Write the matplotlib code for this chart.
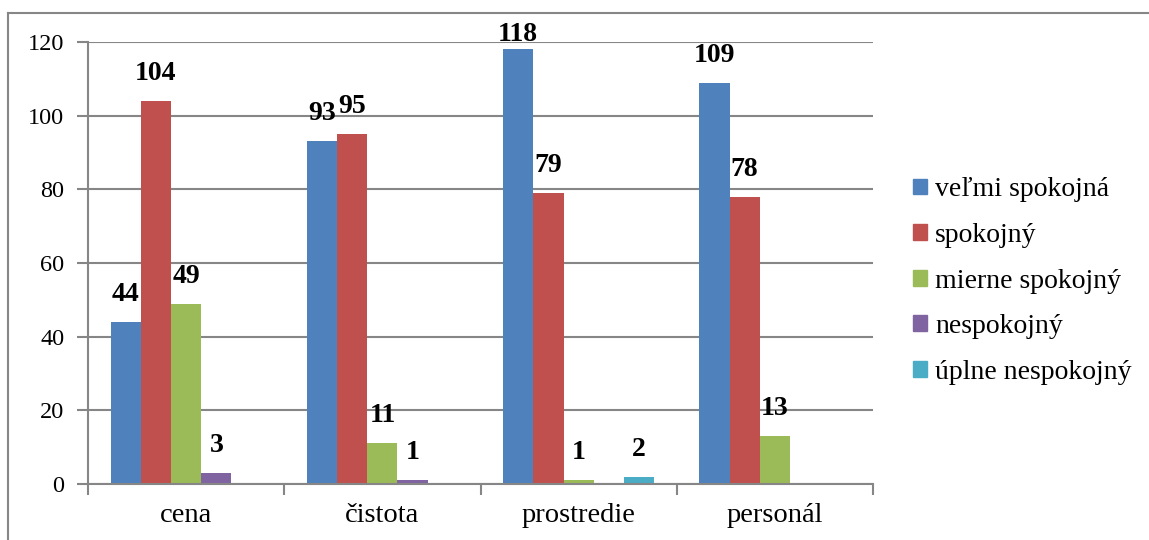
import numpy as np
import matplotlib.pyplot as plt
from matplotlib.lines import Line2D

plt.rcParams['font.family'] = ['Liberation Serif', 'DejaVu Serif']

categories = ['cena', 'čistota', 'prostredie', 'personál']
series = ['veľmi spokojná', 'spokojný', 'mierne spokojný', 'nespokojný', 'úplne nespokojný']
values = [
    [44, 93, 118, 109],
    [104, 95, 79, 78],
    [49, 11, 1, 13],
    [3, 1, 0, 0],
    [0, 0, 2, 0],
]
colors = ['#4F81BD', '#C0504D', '#9BBB59', '#8064A2', '#4BACC6']
yticks = [0, 20, 40, 60, 80, 100, 120]

W, H = 1149, 540
fig = plt.figure(figsize=(W / 100, H / 100), dpi=100)
ax = fig.add_axes([88 / W, 1 - 484 / H, (873 - 88) / W, (484 - 42) / H])

ax.set_xlim(-0.5, len(categories) - 0.5)
ax.set_ylim(0, 120)

x = np.arange(len(categories))
w = 0.154
for i, (name, vals, col) in enumerate(zip(series, values, colors)):
    pos = x + (i - 2) * w
    ax.bar(pos, vals, width=w, color=col, label=name, zorder=2)
    for px, v in zip(pos, vals):
        if not v:
            continue
        # keep the value labels inside the chart area near the top
        top_px = H - ax.transData.transform((px, v))[1]
        off = min(15, top_px - 47)
        ax.annotate(str(v), (px, v), xytext=(0, off), textcoords='offset pixels',
                    ha='center', va='bottom', fontsize=20, fontweight='bold', zorder=3)

ax.set_yticks(yticks)
ax.tick_params(axis='y', labelsize=17.5, length=8, width=1.5, color='#868686', pad=9)
ax.yaxis.grid(True, color='#868686', linewidth=1.5, zorder=0)
ax.set_axisbelow(True)

# boundary ticks between categories, labels sit on minor ticks at the centres
ax.set_xticks(np.arange(len(categories) + 1) - 0.5)
ax.set_xticklabels([])
ax.set_xticks(x, minor=True)
ax.set_xticklabels(categories, minor=True)
ax.tick_params(axis='x', which='major', length=8, width=1.5, color='#868686')
ax.tick_params(axis='x', which='minor', length=0, labelsize=20.5, pad=14)

for s in ['top', 'right']:
    ax.spines[s].set_visible(False)
for s in ['left', 'bottom']:
    ax.spines[s].set_color('#868686')
    ax.spines[s].set_linewidth(1.5)

handles = [plt.Rectangle((0, 0), 1, 1, color=c) for c in colors]
fig.legend(handles, series, loc='center left', bbox_to_anchor=(913 / W, 1 - 281 / H),
           frameon=False, fontsize=20, handlelength=0.5, handleheight=0.5,
           handletextpad=0.3, labelspacing=0.74, borderaxespad=0, borderpad=0)

# outer chart frame
fig.add_artist(Line2D([8 / W, 8 / W], [0, 1 - 13 / H], color='#868686', lw=1.5))
fig.add_artist(Line2D([8 / W, 1], [1 - 13 / H, 1 - 13 / H], color='#868686', lw=1.5))

fig.savefig('out.png', dpi=100)
